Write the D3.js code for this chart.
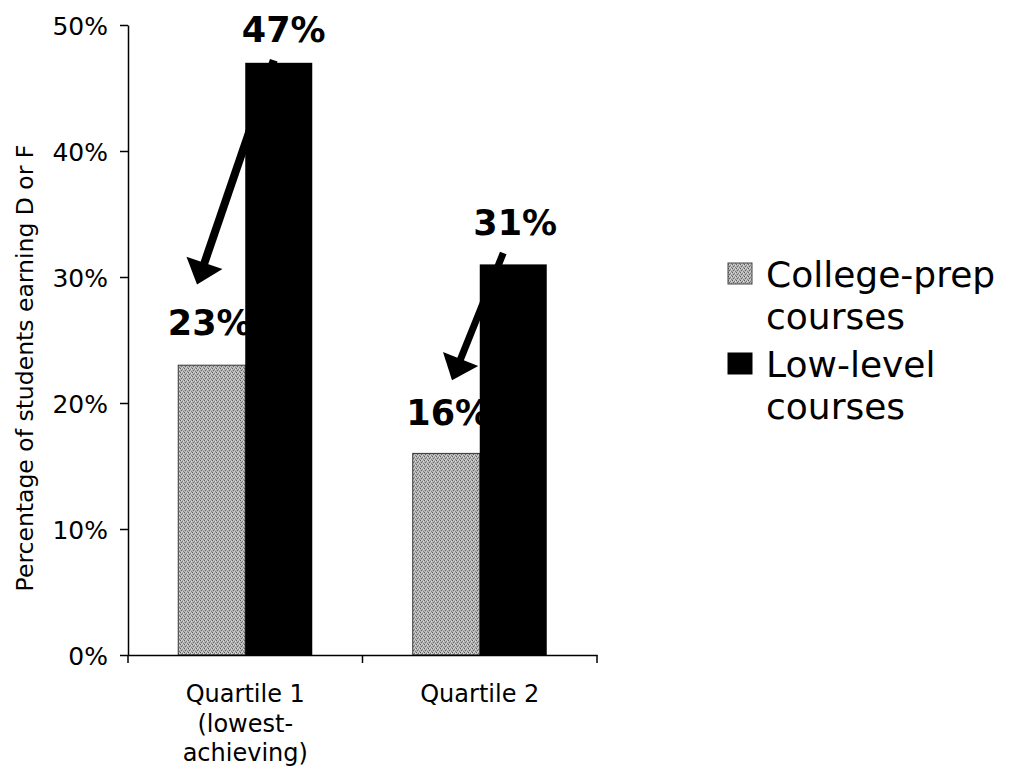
<!DOCTYPE html>
<html>
<head>
<meta charset="utf-8">
<script src="https://cdn.jsdelivr.net/npm/d3@7/dist/d3.min.js"></script>
<style>
  html, body { margin: 0; padding: 0; background: #fff; }
  svg { display: block; }
  text { font-family: "DejaVu Sans", Verdana, sans-serif; fill: #000; }
</style>
</head>
<body>
<svg id="chart" width="1018" height="772"></svg>
<script>
// ---- data ----
const categories = ["Quartile 1 (lowest-achieving)", "Quartile 2"];
const categoryLines = [["Quartile 1", "(lowest-", "achieving)"], ["Quartile 2"]];
const seriesNames = ["College-prep courses", "Low-level courses"];
const legendLines = [["College-prep", "courses"], ["Low-level", "courses"]];
const collegePrep = [23, 16];
const lowLevel = [47, 31];
const yTicks = [0, 10, 20, 30, 40, 50];
const yTitle = "Percentage of students earning D or F";

// ---- annotation styling (positions relative to scales) ----
const labelAdjust = {
  "College-prep courses": [{dx: -2, dy: -30}, {dx: 2, dy: -28}],
  "Low-level courses": [{dx: 5, dy: -21}, {dx: 2, dy: -29}]
};
const arrowSpec = [
  {fromDx: -5, fromV: 47.2, toX: 197, toV: 29.4, width: 8},
  {fromDx: -10, fromV: 31.9, toX: 452, toV: 21.8, width: 7}
];

const svg = d3.select("#chart");
const margin = {left: 128, right: 421, top: 25, bottom: 117};
const W = 1018, H = 772;

const x = d3.scaleBand().domain(categories).range([margin.left, W - margin.right]).paddingInner(0).paddingOuter(0);
const xs = d3.scaleBand().domain(seriesNames).range([0, x.bandwidth()]).paddingInner(0).paddingOuter(0.75);
const y = d3.scaleLinear().domain([0, 50]).range([H - margin.bottom, margin.top]);

// pattern for stippled gray
const defs = svg.append("defs");
const pat = defs.append("pattern").attr("id", "stipple").attr("patternUnits", "userSpaceOnUse")
  .attr("width", 4).attr("height", 4);
pat.append("rect").attr("width", 4).attr("height", 4).attr("fill", "#b4b4b4");
[[0,0,"#5a5a5a"],[2,1,"#7a7a7a"],[1,2,"#646464"],[3,3,"#808080"],[3,1,"#e0e0e0"],[1,0,"#d4d4d4"],[2,3,"#d0d0d0"]].forEach(([px,py,c]) =>
  pat.append("rect").attr("x", px).attr("y", py).attr("width", 1).attr("height", 1).attr("fill", c));

const seriesData = [
  {name: seriesNames[0], values: collegePrep, fill: "url(#stipple)"},
  {name: seriesNames[1], values: lowLevel, fill: "#000"}
];

// gray bars
const s0 = seriesData[0];
svg.append("g").selectAll("rect").data(s0.values).join("rect")
  .attr("x", (d, i) => x(categories[i]) + xs(s0.name))
  .attr("y", d => y(d))
  .attr("width", xs.bandwidth())
  .attr("height", d => y(0) - y(d))
  .attr("fill", s0.fill)
  .attr("stroke", "#333").attr("stroke-width", 1);

// gray labels (behind black bars)
svg.append("g").selectAll("text").data(s0.values).join("text")
  .attr("x", (d, i) => x(categories[i]) + xs(s0.name) + xs.bandwidth() / 2 + labelAdjust[s0.name][i].dx)
  .attr("y", (d, i) => y(d) + labelAdjust[s0.name][i].dy)
  .attr("text-anchor", "middle")
  .style("font-size", "35px").style("font-weight", "bold")
  .text(d => d + "%");

// black bars
const s1 = seriesData[1];
svg.append("g").selectAll("rect").data(s1.values).join("rect")
  .attr("x", (d, i) => x(categories[i]) + xs(s1.name))
  .attr("y", d => y(d))
  .attr("width", xs.bandwidth())
  .attr("height", d => y(0) - y(d))
  .attr("fill", s1.fill);

// black labels
svg.append("g").selectAll("text").data(s1.values).join("text")
  .attr("x", (d, i) => x(categories[i]) + xs(s1.name) + xs.bandwidth() / 2 + labelAdjust[s1.name][i].dx)
  .attr("y", (d, i) => y(d) + labelAdjust[s1.name][i].dy)
  .attr("text-anchor", "middle")
  .style("font-size", "35px").style("font-weight", "bold")
  .text(d => d + "%");

// arrows
arrowSpec.forEach((a, i) => {
  const x1 = x(categories[i]) + xs(s1.name) + xs.bandwidth() / 2 + a.fromDx;
  const y1 = y(a.fromV);
  const x2 = a.toX, y2 = y(a.toV);
  const dx = x2 - x1, dy = y2 - y1, len = Math.hypot(dx, dy);
  const ux = dx / len, uy = dy / len;
  const headLen = 23, headW = 19;
  const bx = x2 - ux * headLen, by = y2 - uy * headLen;
  const px = -uy, py = ux;
  svg.append("line").attr("x1", x1).attr("y1", y1).attr("x2", bx + ux * 2).attr("y2", by + uy * 2)
    .attr("stroke", "#000").attr("stroke-width", a.width);
  svg.append("path")
    .attr("d", `M${x2},${y2}L${bx + px * headW},${by + py * headW}L${bx - px * headW},${by - py * headW}Z`)
    .attr("fill", "#000");
});

// y axis
const yAxis = d3.axisLeft(y).tickValues(yTicks).tickFormat(d => d + "%").tickSizeOuter(0).tickSizeInner(8).tickPadding(12);
const gy = svg.append("g").attr("transform", `translate(${margin.left},0)`).call(yAxis);
gy.select(".domain").attr("stroke", "#000").attr("stroke-width", 1.5);
gy.selectAll(".tick line").attr("stroke", "#000").attr("stroke-width", 1.5);
gy.selectAll(".tick text").style("font-size", "25px").style("font-family", "'DejaVu Sans', Verdana, sans-serif").attr("dy", "0.36em");

// x axis
const xAxis = d3.axisBottom(x).tickSizeOuter(0).tickSizeInner(0).tickFormat("");
const gx = svg.append("g").attr("transform", `translate(0,${y(0)})`).call(xAxis);
gx.select(".domain").attr("stroke", "#000").attr("stroke-width", 1.5);
gx.selectAll(".tick").remove();
const bounds = [x(categories[0]), x(categories[1]), x(categories[1]) + x.bandwidth()];
gx.selectAll("line.bt").data(bounds).join("line").attr("class", "bt")
  .attr("x1", d => d).attr("x2", d => d).attr("y1", 0).attr("y2", 8)
  .attr("stroke", "#000").attr("stroke-width", 1.5);
categories.forEach((c, i) => {
  const t = svg.append("text").attr("text-anchor", "middle").style("font-size", "24px")
    .attr("x", x(c) + x.bandwidth() / 2);
  categoryLines[i].forEach((ln, j) => {
    t.append("tspan").attr("x", x(c) + x.bandwidth() / 2).attr("y", y(0) + 47 + j * 29.5).text(ln);
  });
});

// y title
svg.append("text").attr("transform", `translate(33,368) rotate(-90)`)
  .attr("text-anchor", "middle").style("font-size", "23.5px").text(yTitle);

// legend
const legendBase = [287, 377];
seriesData.forEach((s, i) => {
  svg.append("rect").attr("x", 728).attr("y", legendBase[i] - 24).attr("width", 24).attr("height", 21)
    .attr("fill", s.fill).attr("stroke", i === 0 ? "#444" : "#000").attr("stroke-width", 1);
  const t = svg.append("text").style("font-size", "36px");
  legendLines[i].forEach((ln, j) => {
    t.append("tspan").attr("x", 766).attr("y", legendBase[i] + j * 42).text(ln);
  });
});
</script>
</body>
</html>
